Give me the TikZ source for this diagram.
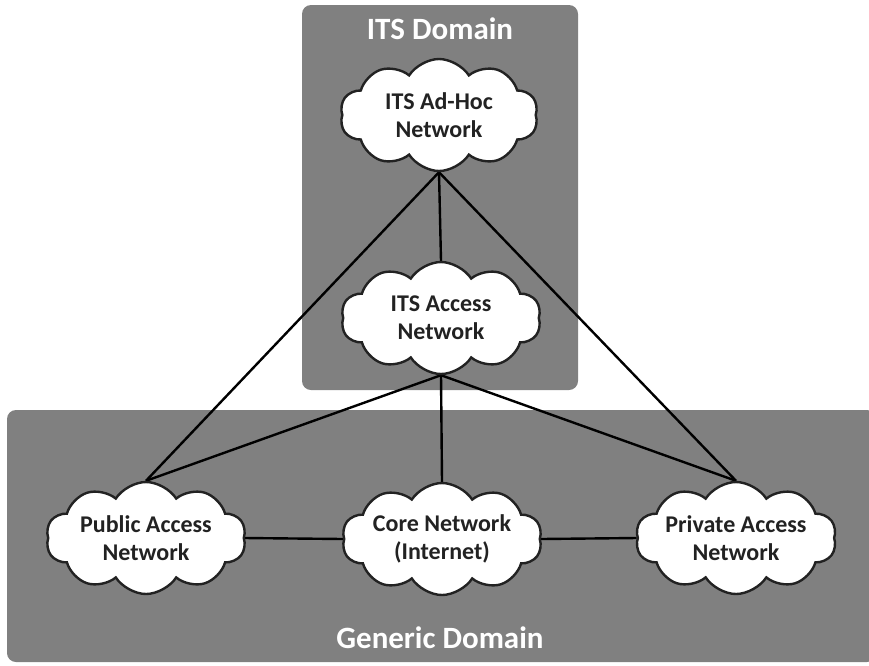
\documentclass[tikz,border=0pt]{standalone}
\usepackage{fontspec}
\setmainfont{Carlito}
\usetikzlibrary{shapes.symbols}
\pgfdeclarelayer{background}
\pgfsetlayers{background,main}
\definecolor{domaingray}{HTML}{808080}
\definecolor{inkdark}{HTML}{222222}
\tikzset{
  domainbox/.style={fill=domaingray, draw=none, rounded corners=9pt},
  domaintitle/.style={text=white, font=\bfseries\fontsize{31}{35}\selectfont},
  netcloud/.style={cloud, cloud puffs=10, cloud puff arc=115, cloud ignores aspect,
    draw=inkdark, line width=2.4pt, fill=white, minimum width=200pt, minimum height=112pt,
    align=center, text=inkdark, inner sep=0pt,
    font=\bfseries\fontsize{24}{28}\selectfont},
  link/.style={draw=black, line width=2.4pt}
}
\begin{document}
\begin{tikzpicture}[x=1pt, y=-1pt]
  \useasboundingbox (0,0) rectangle (869,665);
  \begin{pgfonlayer}{background}
    \fill[white] (0,0) rectangle (869,665);
    \path[domainbox] (302,5) rectangle (578,390);
    \path[domainbox] (7,410) rectangle (876,662);
  \end{pgfonlayer}
  \node[domaintitle] (itstitle) at (440,29) {ITS Domain};
  \node[domaintitle] (gentitle) at (440,638) {Generic Domain};

  \node[netcloud, minimum width=198pt] (adhoc) at (439,115) {ITS Ad-Hoc\\Network};
  \node[netcloud] (access) at (441,318) {ITS Access\\Network};
  \node[netcloud] (public) at (146,538) {Public Access\\Network};
  \node[netcloud] (core) at (442,539) {Core Network\\(Internet)};
  \node[netcloud] (private) at (736,538) {Private Access\\Network};

  \begin{pgfonlayer}{background}
    \draw[link] (adhoc.south) -- (access.north);
    \draw[link] (adhoc.south) -- (public.north);
    \draw[link] (adhoc.south) -- (private.north);
    \draw[link] (access.south) -- (public.north);
    \draw[link] (access.south) -- (core.north);
    \draw[link] (access.south) -- (private.north);
    \draw[link] (public.east) -- (core.west);
    \draw[link] (core.east) -- (private.west);
  \end{pgfonlayer}
\end{tikzpicture}
\end{document}
